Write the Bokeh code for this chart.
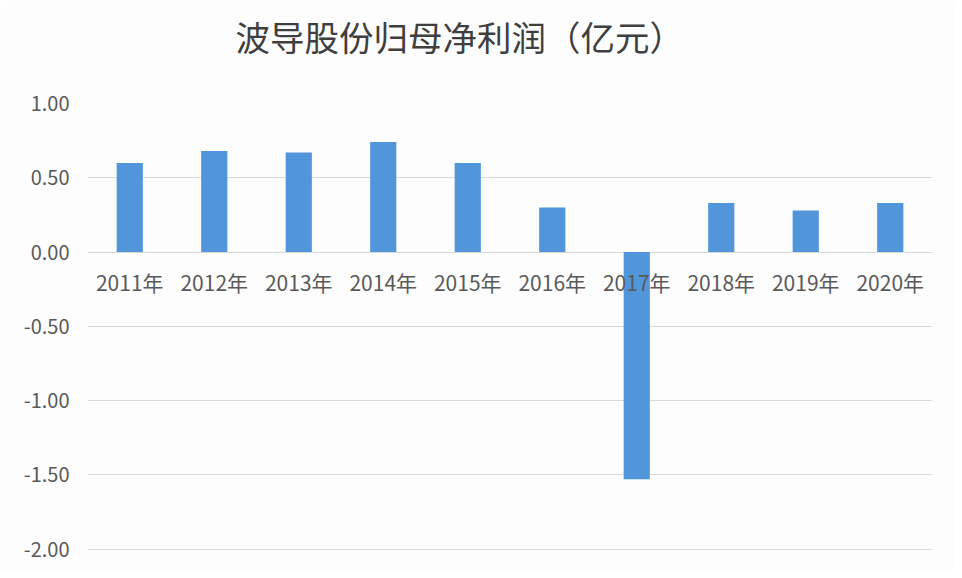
from bokeh.plotting import figure
from bokeh.models import Range1d, FactorRange, FixedTicker, NumeralTickFormatter, Title
from bokeh.core.properties import value
from bokeh.embed import file_html
from bokeh.resources import INLINE

# Data
years = ["2011年", "2012年", "2013年", "2014年", "2015年",
         "2016年", "2017年", "2018年", "2019年", "2020年"]
profit = [0.60, 0.68, 0.67, 0.74, 0.60, 0.30, -1.53, 0.33, 0.28, 0.33]
y_ticks = [-2.0, -1.5, -1.0, -0.5, 0.0, 0.5, 1.0]
title_text = "波导股份归母净利润（亿元）"

FONT = "Noto Sans CJK SC"

p = figure(width=954, height=570,
           x_range=FactorRange(*years, range_padding=0),
           y_range=Range1d(-2.01, 1.0),
           output_backend="svg", toolbar_location=None,
           min_border_left=87, min_border_right=22,
           min_border_top=103, min_border_bottom=20,
           title=title_text)
p.background_fill_color = "#fdfdfd"
p.border_fill_color = "#fdfdfd"
p.outline_line_color = None

# spacer between the title and the plot area
p.add_layout(Title(text=" ", text_font_size="1px", standoff=40), "above")

p.title.align = "left"
p.title.offset = 148
p.title.standoff = 0
p.title.vertical_align = "bottom"
p.title.text_font = FONT
p.title.text_font_size = "34.5px"
p.title.text_font_style = "normal"
p.title.text_color = "#3f3f3f"

p.vbar(x=years, top=profit, width=0.31, color="#5196DA", line_color=None)

# category labels next to the zero line
p.text(x=years, y=0, text=years, text_font=value(FONT), text_font_size="21px",
       text_color="#595959", text_align="center", text_baseline="middle",
       y_offset=30)

p.xaxis.visible = False
p.xgrid.grid_line_color = None

yax = p.yaxis[0]
yax.ticker = FixedTicker(ticks=y_ticks)
yax.formatter = NumeralTickFormatter(format="0.00")
yax.axis_line_color = None
yax.major_tick_line_color = None
yax.minor_tick_line_color = None
yax.major_tick_out = 0
yax.major_label_standoff = 18
yax.major_label_text_font = FONT
yax.major_label_text_font_size = "20px"
yax.major_label_text_color = "#595959"

p.ygrid.ticker = FixedTicker(ticks=y_ticks)
p.ygrid.grid_line_color = "#d9d9d9"
p.ygrid.grid_line_width = 1

open("out.html", "w").write(file_html(p, INLINE))
